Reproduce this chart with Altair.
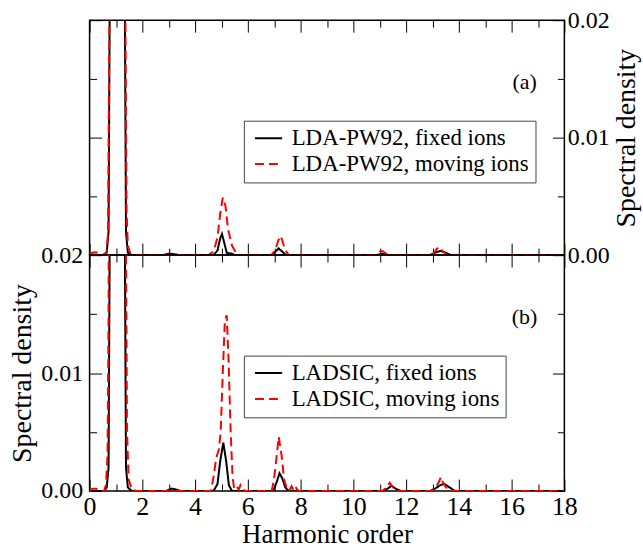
import altair as alt
import pandas as pd

FONT = "Liberation Serif"

# ---------------- data: panel (a) LDA-PW92 ----------------
a_fixed_x = [0, 0.5, 0.65, 0.72, 0.76, 0.8, 0.9, 1.05, 1.2, 1.3, 1.34, 1.38, 1.45, 1.6,
             2.8, 3.0, 3.2, 3.4,
             4.7, 4.85, 4.95, 5.02, 5.1, 5.2, 5.3, 5.4, 5.5, 5.6,
             6.9, 7.05, 7.17, 7.3, 7.45,
             10.9, 11.1, 11.3,
             12.9, 13.1, 13.3, 13.5, 13.7, 18]
a_fixed_y = [0, 0, 0.0002, 0.002, 0.02, 0.1, 0.4, 0.6, 0.4, 0.1, 0.02, 0.002, 0.0002, 0,
             0, 0.00012, 0.00008, 0,
             0, 0.0004, 0.0014, 0.0018, 0.0011, 0.0002, 0.00015, 0.00012, 0, 0,
             0, 0.0003, 0.00057, 0.0003, 0,
             0, 0.00012, 0,
             0, 0.0002, 0.00036, 0.0002, 0, 0]

a_moving_x = [0, 0.1, 0.2, 0.3, 0.4, 0.55, 0.65, 0.7, 0.75, 0.8, 0.9, 1.05, 1.2, 1.3, 1.36,
              1.4, 1.45, 1.55, 1.7,
              4.5, 4.7, 4.85, 4.95, 5.05, 5.15, 5.25, 5.4, 5.55, 5.7,
              6.9, 7.05, 7.15, 7.23, 7.3, 7.4, 7.55,
              10.9, 11.0, 11.1, 11.2, 11.35,
              12.9, 13.0, 13.05, 13.15, 13.25, 13.4, 13.55, 18]
a_moving_y = [0, 0.0002, 0.00025, 0.0002, 0, 0, 0.0003, 0.002, 0.02, 0.1, 0.4, 0.6, 0.4, 0.1, 0.02,
              0.004, 0.0008, 0.0001, 0,
              0, 0.0003, 0.0015, 0.0035, 0.0049, 0.0042, 0.0022, 0.0008, 0.0002, 0,
              0, 0.0005, 0.0012, 0.00164, 0.0013, 0.0005, 0,
              0, 0.0003, 0.00035, 0.0002, 0,
              0, 0.0002, 0.0001, 0.0005, 0.0007, 0.0003, 0, 0]

# ---------------- data: panel (b) LADSIC ----------------
b_fixed_x = [0, 0.55, 0.65, 0.72, 0.76, 0.8, 0.9, 1.05, 1.2, 1.3, 1.34, 1.38, 1.45, 1.6,
             2.9, 3.1, 3.25, 3.45,
             4.7, 4.85, 4.95, 5.07, 5.18, 5.28, 5.4,
             6.9, 7.0, 7.1, 7.2, 7.3, 7.42, 7.55,
             11.1, 11.3, 11.45, 11.6, 11.8,
             12.9, 13.1, 13.3, 13.45, 13.65, 13.85, 18]
b_fixed_y = [0, 0, 0.0003, 0.002, 0.02, 0.1, 0.4, 0.6, 0.4, 0.1, 0.02, 0.002, 0.0003, 0,
             0, 0.0002, 0.00015, 0,
             0, 0.0006, 0.0025, 0.0041, 0.0025, 0.0005, 0,
             0, 0.0002, 0.0008, 0.0015, 0.0011, 0.0003, 0,
             0, 0.0002, 0.00045, 0.0002, 0,
             0, 0.0002, 0.0005, 0.0006, 0.0003, 0, 0]

b_moving_x = [0, 0.1, 0.25, 0.4, 0.55, 0.62, 0.68, 0.72, 0.78, 0.9, 1.05, 1.2, 1.32, 1.38,
              1.42, 1.48, 1.6, 1.8,
              4.6, 4.7, 4.8, 4.9, 4.97, 5.05, 5.13, 5.2, 5.27, 5.35, 5.42, 5.48, 5.58,
              5.65, 5.72, 5.8, 5.9,
              6.9, 6.98, 7.07, 7.17, 7.28, 7.38, 7.48, 7.56, 7.66, 7.72, 7.8, 7.87, 7.95,
              11.1, 11.25, 11.38, 11.5, 11.65,
              13.0, 13.15, 13.25, 13.32, 13.4, 13.55, 13.7, 18]
b_moving_y = [0, 0.0002, 0.0002, 0, 0, 0.0005, 0.003, 0.015, 0.08, 0.4, 0.6, 0.4, 0.1, 0.02,
              0.005, 0.001, 0.0001, 0,
              0, 0.0012, 0.0028, 0.0035, 0.005, 0.01, 0.0145, 0.0149, 0.011, 0.005, 0.0012, 0.0002, 0.0004,
              0.0001, 0.0005, 0.0002, 0,
              0, 0.0008, 0.0025, 0.0046, 0.003, 0.0009, 0.0002, 0, 0.0004, 0.0001, 0.0004, 0.0001, 0,
              0, 0.0003, 0.0007, 0.0003, 0,
              0, 0.0004, 0.0008, 0.0012, 0.0007, 0.0002, 0, 0]

a_names = ["LDA-PW92, fixed ions", "LDA-PW92, moving ions"]
b_names = ["LADSIC, fixed ions", "LADSIC, moving ions"]

x_major = [0, 2, 4, 6, 8, 10, 12, 14, 16, 18]
x_minor = [1, 3, 5, 7, 9, 11, 13, 15, 17]
y_major = [0.0, 0.01, 0.02]
y_minor = [0.005, 0.015]

anchor = pd.DataFrame({"h": [0.0], "s": [0.0]})


def long_df(fx, fy, mx, my, names):
    d1 = pd.DataFrame({"h": fx, "s": fy, "series": names[0]})
    d2 = pd.DataFrame({"h": mx, "s": my, "series": names[1]})
    return pd.concat([d1, d2], ignore_index=True)


def xs():
    return alt.Scale(domain=[0, 18], nice=False, zero=False)


def ys():
    return alt.Scale(domain=[0, 0.02], nice=False)


def tick_axis(orient, values, size):
    return alt.Axis(orient=orient, values=values, labels=False, domain=False, grid=False,
                    ticks=True, tickSize=size, offset=-size, tickColor="black",
                    tickWidth=1, title=None)


def label_axis_y(orient):
    kw = dict(orient=orient, values=y_major, format=".2f", ticks=False, domain=False,
              grid=False, labelFont=FONT, labelFontSize=24, labelColor="black",
              labelFlush=False,
              labelPadding=7 if orient == "left" else 3,
              title="Spectral density", titleFont=FONT, titleFontSize=28,
              titleFontWeight="normal", titleColor="black", titlePadding=4)
    if orient == "right":
        kw["titleAngle"] = 270
        kw["titleBaseline"] = "top"
        kw["titlePadding"] = 3
    return alt.Axis(**kw)


def panel(df, names, legend_y, label, bottom):
    legend = alt.Legend(orient="none", legendX=155, legendY=legend_y, title=None,
                        fillColor="white", strokeColor="#444444", padding=6,
                        labelFont=FONT, labelFontSize=23, labelColor="black", labelLimit=0,
                        symbolType="M-1.2,0H4.0", symbolSize=110, symbolStrokeWidth=2,
                        rowPadding=2, labelOffset=19)
    if bottom:
        xaxis = alt.Axis(orient="bottom", values=x_major, format="d", ticks=False,
                         domain=False, grid=False, labelFont=FONT, labelFontSize=26,
                         labelColor="black", labelPadding=3, labelFlush=False,
                         title="Harmonic order",
                         titleFont=FONT, titleFontSize=27, titleFontWeight="normal",
                         titleColor="black", titlePadding=2)
        yaxis = label_axis_y("left")
    else:
        xaxis = None
        yaxis = label_axis_y("right")

    lines = alt.Chart(df).mark_line(clip=True, strokeWidth=2).encode(
        x=alt.X("h:Q", scale=xs(), axis=xaxis),
        y=alt.Y("s:Q", scale=ys(), axis=yaxis),
        color=alt.Color("series:N", scale=alt.Scale(domain=names, range=["#000000", "#ff0000"]),
                        legend=legend),
        strokeDash=alt.StrokeDash("series:N",
                                  scale=alt.Scale(domain=names, range=[[1, 0], [9, 5]]),
                                  legend=legend),
    )

    tick_specs = [
        (tick_axis("top", x_major, 12), tick_axis("left", y_major, 12)),
        (tick_axis("top", x_minor, 7), tick_axis("left", y_minor, 7)),
        (tick_axis("bottom", x_major, 12), tick_axis("right", y_major, 12)),
        (tick_axis("bottom", x_minor, 7), tick_axis("right", y_minor, 7)),
    ]
    tick_layers = [
        alt.Chart(anchor).mark_point(opacity=0).encode(
            x=alt.X("h:Q", scale=xs(), axis=ax),
            y=alt.Y("s:Q", scale=ys(), axis=ay),
        )
        for ax, ay in tick_specs
    ]

    text = alt.Chart(anchor).mark_text(font=FONT, fontSize=22, color="black",
                                       align="center", baseline="middle").encode(
        x=alt.value(437), y=alt.value(62), text=alt.value(label))

    return alt.layer(lines, *tick_layers, text).resolve_axis(
        x="independent", y="independent")


df_a = long_df(a_fixed_x, a_fixed_y, a_moving_x, a_moving_y, a_names)
df_b = long_df(b_fixed_x, b_fixed_y, b_moving_x, b_moving_y, b_names)

top = panel(df_a, a_names, 101, "(a)", False).properties(width=477, height=236)
bot = panel(df_b, b_names, 101, "(b)", True).properties(width=477, height=237)

chart = alt.vconcat(top, bot, spacing=0, bounds="flush").resolve_scale(
    color="independent", strokeDash="independent"
).configure_view(stroke="black", strokeWidth=1.5).properties(
    padding={"left": 8, "right": 2, "top": 6, "bottom": 0}, background="white"
)

chart.save("out.html", embed_options={"renderer": "svg", "actions": False})
